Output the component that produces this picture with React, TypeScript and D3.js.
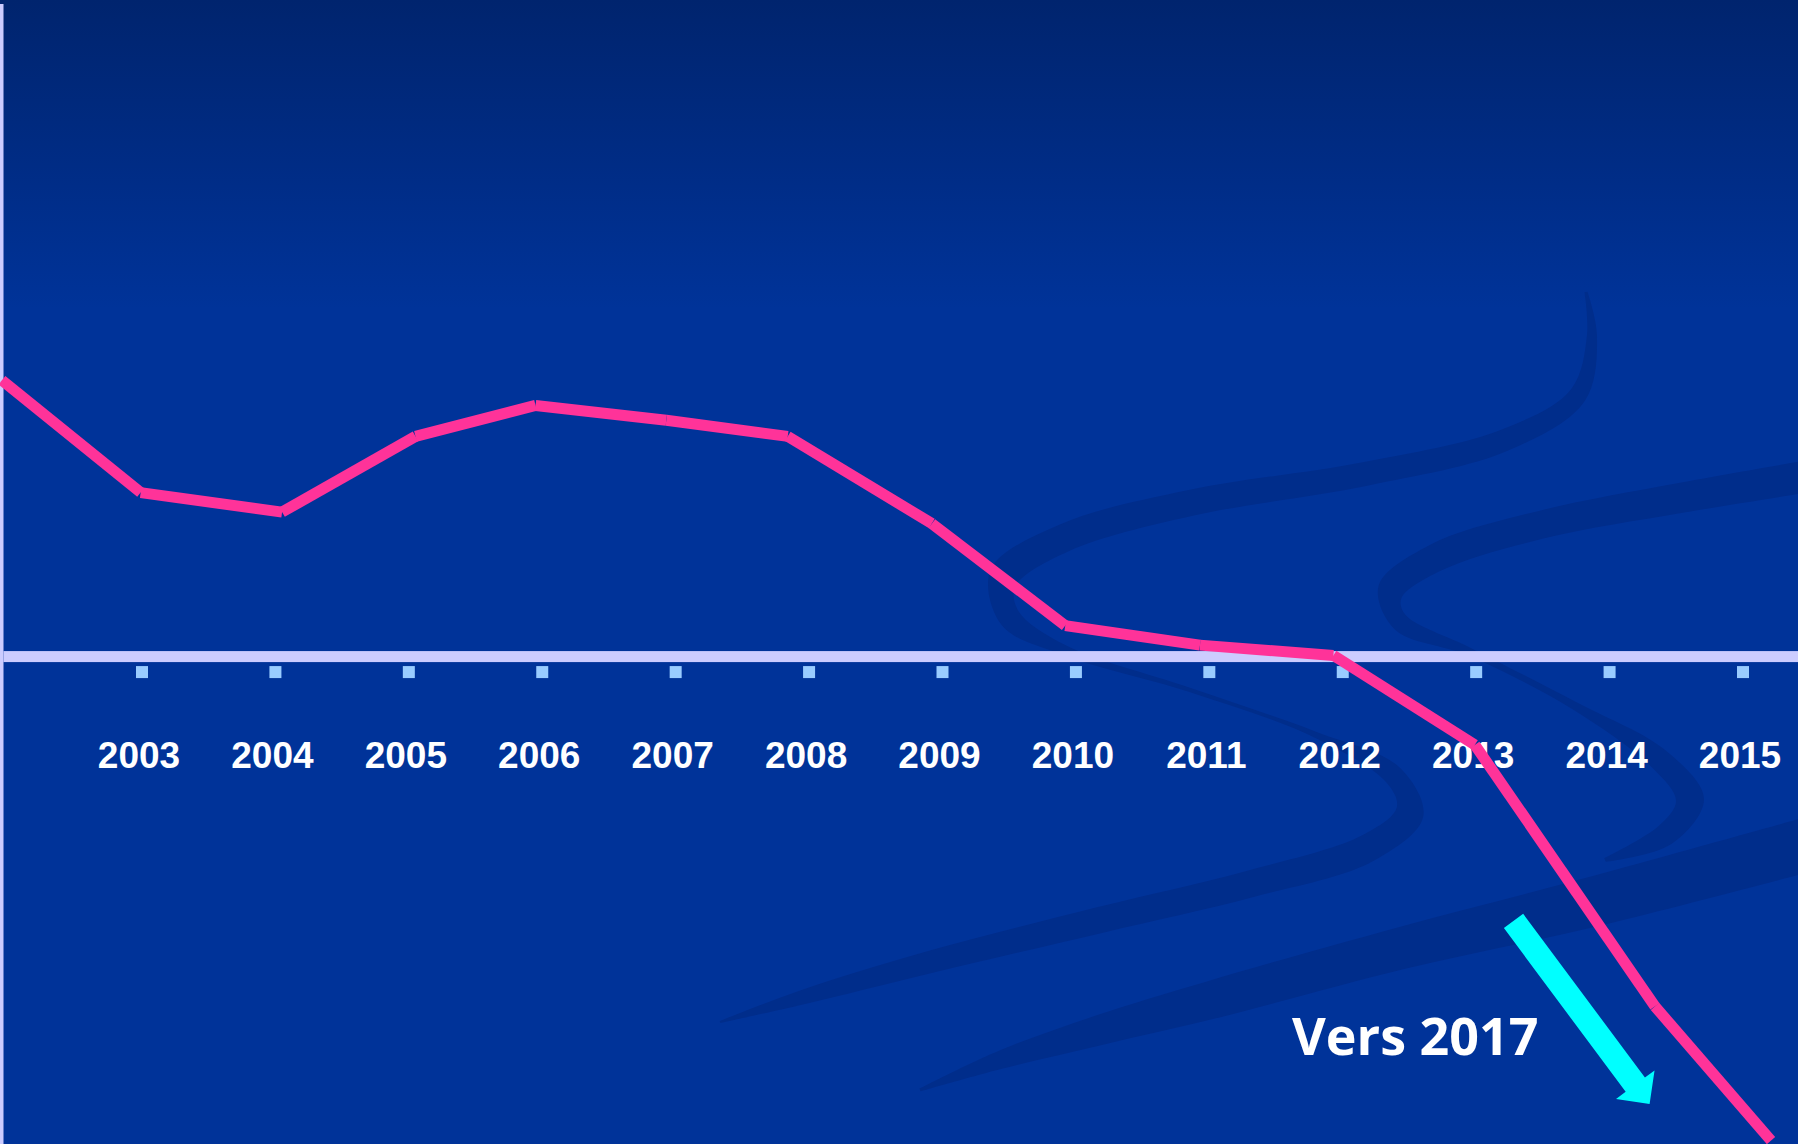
import React from "react";
import * as d3 from "d3";

const W = 1798;
const H = 1144;

// ---- data ----
const tickYears = [2003, 2004, 2005, 2006, 2007, 2008, 2009, 2010, 2011, 2012, 2013, 2014, 2015];
const tickLabels = ["2003", "2004", "2005", "2006", "2007", "2008", "2009", "2010", "2011", "2012", "2013", "2014", "2015"];
const seriesYears = [2001.95, 2002.99, 2004.05, 2005.05, 2005.95, 2006.93, 2007.84, 2008.92, 2009.92, 2010.93, 2011.93, 2012.99, 2014.34, 2015.21];
const seriesValues = [24.1, 14.3, 12.6, 19.2, 21.9, 20.6, 19.2, 11.6, 2.7, 1.0, 0.1, -7.7, -30.5, -42.2];
const annotationText = "Vers 2017";
const annotationAt = [2011.62, -34.74];
const arrowFrom = [2013.28, -23.05];
const arrowTo = [2014.3, -39.01];

// ---- decorative background ribbons (x, y, width in px) ----
const ribbonUpper: [number, number, number][] = [
  [1586, 292, 3], [1592, 335, 10], [1578, 395, 18], [1505, 440, 22], [1365, 474, 24],
  [1190, 503, 26], [1064, 538, 28], [1003, 578, 30], [1010, 618, 22], [1064, 650, 10],
  [1190, 690, 4], [1316, 735, 6], [1393, 775, 20], [1410, 812, 28], [1368, 848, 28],
  [1250, 884, 27], [1100, 920, 26], [930, 962, 22], [800, 998, 14], [720, 1022, 2],
];
const ribbonRight: [number, number, number][] = [
  [1810, 476, 32], [1680, 498, 30], [1540, 525, 28], [1435, 558, 28], [1390, 592, 26],
  [1400, 622, 18], [1470, 652, 8], [1575, 706, 8], [1660, 760, 22], [1690, 800, 28],
  [1665, 835, 22], [1605, 860, 4],
];
const ribbonBand: [number, number, number][] = [
  [1810, 844, 54], [1600, 900, 50], [1402, 948, 42], [1211, 1000, 38], [1100, 1030, 30],
  [1000, 1060, 18], [920, 1090, 3],
];

function ribbon(pts: [number, number, number][]) {
  const n = pts.length;
  const left: [number, number][] = [];
  const right: [number, number][] = [];
  for (let i = 0; i < n; i++) {
    const p0 = pts[Math.max(0, i - 1)];
    const p1 = pts[Math.min(n - 1, i + 1)];
    let dx = p1[0] - p0[0];
    let dy = p1[1] - p0[1];
    const len = Math.hypot(dx, dy) || 1;
    dx /= len;
    dy /= len;
    const nx = -dy, ny = dx;
    const h = pts[i][2] / 2;
    left.push([pts[i][0] + nx * h, pts[i][1] + ny * h]);
    right.push([pts[i][0] - nx * h, pts[i][1] - ny * h]);
  }
  const line = d3.line().curve(d3.curveCatmullRom.alpha(0.5));
  const l = line(left) as string;
  const r = line(right.reverse()) as string;
  return l + "L" + r.slice(1) + "Z";
}

export default function App() {
  const x = d3.scaleLinear().domain([2003, 2015]).range([142, 1743]);
  const y = d3.scaleLinear().domain([-42.5, 57.25]).range([H, 0]);
  const y0 = y(0);

  const pts = seriesYears.map((yr, i) => [x(yr), y(seriesValues[i])] as [number, number]);

  // arrow geometry
  const sx = x(arrowFrom[0]), sy = y(arrowFrom[1]);
  const tx = x(arrowTo[0]), ty = y(arrowTo[1]);
  const len = Math.hypot(tx - sx, ty - sy);
  const ux = (tx - sx) / len, uy = (ty - sy) / len;
  const px = -uy, py = ux;
  const shaftHalf = 12, headHalf = 24, headLen = 24;
  const bx = tx - ux * headLen, by = ty - uy * headLen;
  const arrowPts: [number, number][] = [
    [sx + px * shaftHalf, sy + py * shaftHalf],
    [bx + px * shaftHalf, by + py * shaftHalf],
    [bx + px * headHalf, by + py * headHalf],
    [tx, ty],
    [bx - px * headHalf, by - py * headHalf],
    [bx - px * shaftHalf, by - py * shaftHalf],
    [sx - px * shaftHalf, sy - py * shaftHalf],
  ];

  return (
    <svg
      width={W}
      height={H}
      viewBox={`0 0 ${W} ${H}`}
      style={{ position: "absolute", left: 0, top: 0, display: "block" }}
    >
      <defs>
        <linearGradient id="bg" x1="0" y1="0" x2="0" y2="1">
          <stop offset="0" stopColor="#00246e" />
          <stop offset="0.27" stopColor="#003399" />
          <stop offset="1" stopColor="#003399" />
        </linearGradient>
      </defs>
      <rect x={0} y={0} width={W} height={H} fill="url(#bg)" />

      {/* decorative ribbons */}
      <g fill="#002d8b">
        <path d={ribbon(ribbonUpper)} />
        <path d={ribbon(ribbonRight)} />
        <path d={ribbon(ribbonBand)} />
      </g>

      {/* left frame line */}
      <rect x={0} y={4} width={3.5} height={H - 4} fill="#ccccff" />

      {/* horizontal axis */}
      <rect x={3.5} y={y0 - 5.5} width={W - 3.5} height={11} fill="#ccccff" />

      {/* tick squares */}
      {tickYears.map((yr) => (
        <rect key={"t" + yr} x={x(yr) - 6} y={y0 + 9.5} width={12} height={12} fill="#99ccff" />
      ))}

      {/* tick labels */}
      {tickYears.map((yr, i) => (
        <text
          key={"l" + yr}
          x={x(yr) - 3}
          y={y0 + 111}
          textAnchor="middle"
          fill="#ffffff"
          fontFamily="'Liberation Sans', Arial, sans-serif"
          fontWeight={700}
          fontSize={37}
        >
          {tickLabels[i]}
        </text>
      ))}

      {/* series line, drawn segment by segment */}
      <g stroke="#ff3399" strokeWidth={11} strokeLinecap="butt">
        {pts.slice(1).map((p, i) => (
          <line key={"s" + i} x1={pts[i][0]} y1={pts[i][1]} x2={p[0]} y2={p[1]} />
        ))}
      </g>

      {/* annotation */}
      <polygon points={arrowPts.map((p) => p.join(",")).join(" ")} fill="#00ffff" />
      <text
        x={x(annotationAt[0])}
        y={y(annotationAt[1])}
        fill="#ffffff"
        fontFamily="'Open Sans', 'DejaVu Sans', sans-serif"
        fontWeight={700}
        fontSize={52}
      >
        {annotationText}
      </text>
    </svg>
  );
}
